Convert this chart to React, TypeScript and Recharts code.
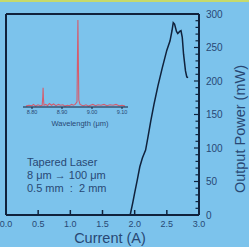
import React from "react";
import { LineChart, Line, XAxis, YAxis, ReferenceLine, Label } from "recharts";

// L-I curve of the tapered laser
const current = [1.93, 1.97, 2.0, 2.04, 2.08, 2.12, 2.17, 2.21, 2.25, 2.3, 2.36, 2.43, 2.5, 2.55, 2.58, 2.6, 2.62, 2.65, 2.67, 2.7, 2.72, 2.74, 2.76, 2.79, 2.81, 2.83];
const power = [0, 18, 33, 52, 72, 85, 97, 118, 140, 165, 192, 220, 246, 260, 275, 287, 285, 274, 271, 274, 275, 265, 240, 215, 206, 205];

const currentTicks = [0, 0.5, 1, 1.5, 2, 2.5, 3];
const powerTicks = Array.from({ length: 31 }, (_, i) => i * 10); // minor every 10, labels every 50

// inset spectrum
const wavelength = [8.78, 8.79, 8.8, 8.805, 8.812, 8.82, 8.828, 8.834, 8.836, 8.837, 8.838, 8.84, 8.846, 8.852, 8.858, 8.865, 8.872, 8.88, 8.888, 8.895, 8.903, 8.91, 8.918, 8.925, 8.932, 8.938, 8.944, 8.95, 8.953, 8.956, 8.96, 8.966, 8.972, 8.98, 8.988, 8.995, 9.003, 9.012, 9.02, 9.03, 9.04, 9.05, 9.06, 9.07, 9.08, 9.09, 9.1, 9.11];
const intensity = [0.01, 0.02, 0.015, 0.03, 0.01, 0.025, 0.015, 0.02, 0.12, 0.22, 0.1, 0.02, 0.03, 0.015, 0.04, 0.02, 0.035, 0.015, 0.03, 0.02, 0.025, 0.01, 0.02, 0.015, 0.03, 0.02, 0.03, 0.06, 1.0, 0.08, 0.03, 0.02, 0.015, 0.025, 0.01, 0.02, 0.03, 0.015, 0.025, 0.02, 0.03, 0.015, 0.025, 0.02, 0.03, 0.015, 0.02, 0.01];
const wlTicks = [8.8, 8.9, 9.0, 9.1];

const notes = ["Tapered Laser", "8 μm → 100 μm", "0.5 mm  :  2 mm"];

const BG = "#7cc3ec";
const NAVY = "#10223c";
const TEXT = "#284874";
const FONT = "'Liberation Sans', Arial, sans-serif";

const liData = current.map((c, i) => ({ current: c, power: power[i] }));
const specData = wavelength.map((w, i) => ({ wl: w, v: intensity[i] }));

function CurrentTick(props: any) {
    const { x, y, payload } = props;
    const v = payload.value;
    return (
        <g>
            {v > 0 && v < 3 && <line x1={x} y1={y} x2={x} y2={y - 5} stroke={NAVY} strokeWidth={1.5} />}
            <text x={x} y={y + 12} textAnchor="middle" fontSize={9} fill={TEXT} fontFamily={FONT}>
                {v.toFixed(1)}
            </text>
        </g>
    );
}

function PowerTick(props: any) {
    const { x, y, payload } = props;
    const v = payload.value;
    const major = v % 50 === 0;
    return (
        <g>
            {v > 0 && v < 300 && <line x1={x} y1={y} x2={x - (major ? 5 : 3.5)} y2={y} stroke={NAVY} strokeWidth={1.2} />}
            {major && (
                <text x={x + 7} y={y + 3.5} fontSize={10} fill={TEXT} fontFamily={FONT}>
                    {v}
                </text>
            )}
        </g>
    );
}

export default function App() {
    return (
        <div style={{ position: "absolute", left: 0, top: 0, width: 249, height: 247, background: BG, overflow: "hidden", fontFamily: FONT }}>
            <div style={{ position: "absolute", left: 0, top: 0, width: 249, height: 2, background: "#c6da6c" }} />

            <LineChart width={249} height={247} data={liData} margin={{ top: 14, right: 0, bottom: 0, left: 6 }} style={{ position: "absolute", left: 0, top: 0 }}>
                <XAxis
                    dataKey="current"
                    type="number"
                    domain={[0, 3]}
                    ticks={currentTicks}
                    interval={0}
                    height={32}
                    tickSize={0}
                    tickMargin={0}
                    tickLine={false}
                    axisLine={{ stroke: NAVY, strokeWidth: 2 }}
                    tick={CurrentTick}
                >
                    <Label
                        content={() => (
                            <text x={110} y={243} textAnchor="middle" fontSize={14.5} fill={TEXT} fontFamily={FONT}>
                                Current (A)
                            </text>
                        )}
                    />
                </XAxis>
                <YAxis
                    orientation="right"
                    type="number"
                    domain={[0, 300]}
                    ticks={powerTicks}
                    interval={0}
                    width={50}
                    tickSize={0}
                    tickMargin={0}
                    tickLine={false}
                    axisLine={{ stroke: NAVY, strokeWidth: 2 }}
                    tick={PowerTick}
                >
                    <Label
                        content={() => (
                            <text x={240} y={129} transform="rotate(-90 240 129)" textAnchor="middle" dominantBaseline="central" fontSize={14.5} fill={TEXT} fontFamily={FONT}>
                                Output Power (mW)
                            </text>
                        )}
                    />
                </YAxis>
                <ReferenceLine y={300} stroke={NAVY} strokeWidth={2} />
                <ReferenceLine x={0} stroke={NAVY} strokeWidth={2} />
                <Line dataKey="power" type="linear" stroke={NAVY} strokeWidth={1.5} dot={false} isAnimationActive={false} />
            </LineChart>

            <LineChart width={120} height={115} data={specData} margin={{ top: 5, right: 10, bottom: 0, left: 5 }} style={{ position: "absolute", left: 18, top: 15 }}>
                <XAxis
                    dataKey="wl"
                    type="number"
                    domain={[8.77, 9.12]}
                    ticks={wlTicks}
                    interval={0}
                    height={23}
                    tickSize={2}
                    tickMargin={1}
                    tickFormatter={(v: number) => v.toFixed(2)}
                    tick={{ fontSize: 5.5, fill: TEXT, fontFamily: FONT }}
                    tickLine={{ stroke: NAVY }}
                    axisLine={{ stroke: NAVY, strokeWidth: 1.2 }}
                >
                    <Label
                        content={() => (
                            <text x={62} y={110.5} textAnchor="middle" fontSize={7.5} fill={TEXT} fontFamily={FONT}>
                                Wavelength (μm)
                            </text>
                        )}
                    />
                </XAxis>
                <YAxis type="number" domain={[0, 1]} hide />
                <Line dataKey="v" type="linear" stroke="#d45d6e" strokeWidth={1.1} dot={false} isAnimationActive={false} />
            </LineChart>

            <div style={{ position: "absolute", left: 27, top: 156, fontSize: 11, lineHeight: "13px", color: TEXT, whiteSpace: "pre" }}>
                {notes.map((n) => (
                    <div key={n}>{n}</div>
                ))}
            </div>
        </div>
    );
}
